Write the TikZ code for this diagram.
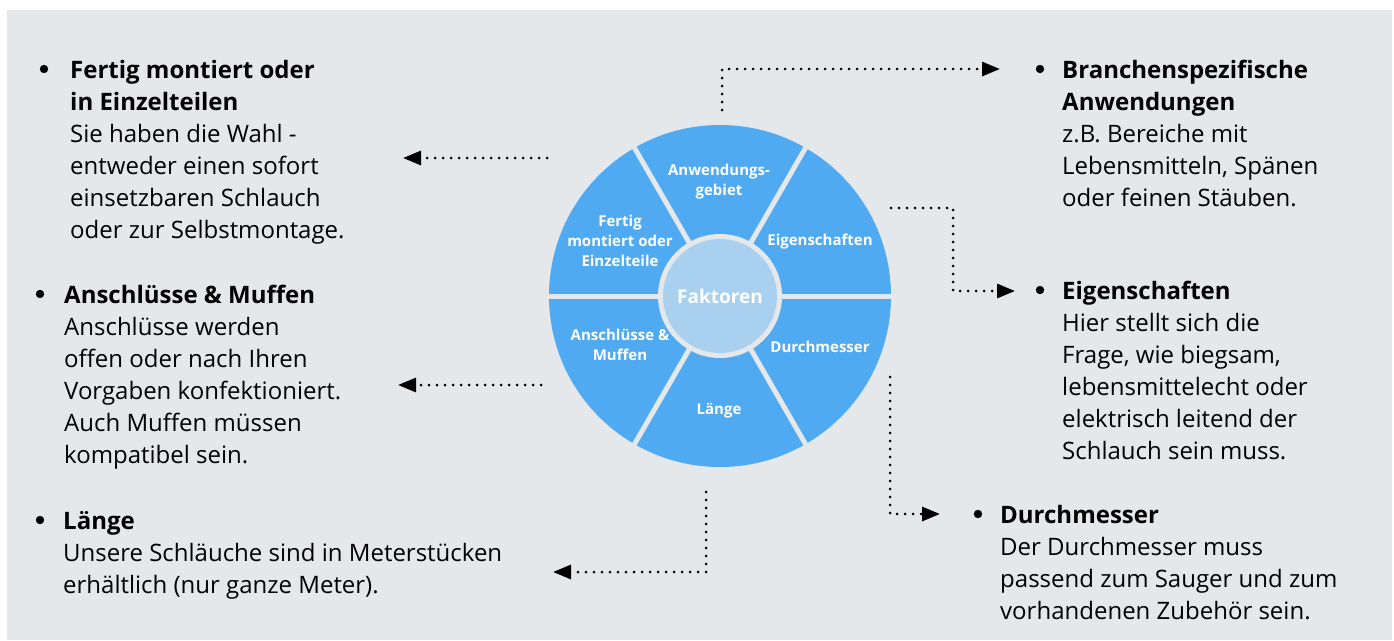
\documentclass[tikz,border=0pt]{standalone}
\usepackage{fontspec}
\setmainfont{Open Sans}
\usetikzlibrary{arrows.meta, positioning, calc}
\definecolor{bggray}{RGB}{229,232,234}
\definecolor{segblue}{RGB}{79,170,242}
\definecolor{coreblue}{RGB}{169,208,238}

\begin{document}
\begin{tikzpicture}[x=1pt, y=-1pt,
  seglabel/.style={text=white, inner sep=0pt, align=center, font=\bfseries\fontsize{15}{20}\selectfont},
  infotext/.style={anchor=north west, inner sep=0pt, align=left, font=\fontsize{24}{32}\selectfont,
    execute at begin node=\rule{0pt}{22pt}},
  connector/.style={line width=3pt, dash pattern=on 0pt off 8pt, line cap=round,
    -{Triangle[length=18pt, width=14pt]}}]
\useasboundingbox (0,0) rectangle (1394,640);
\fill[white] (0,0) rectangle (1394,640);
\fill[bggray] (7,10) rectangle (1392,640);

% wheel
\coordinate (C) at (720,296);
\fill[segblue] (C) circle[radius=171];
\foreach \a in {0,60,...,300}
  \draw[bggray, line width=5pt] (C) -- ++(\a:176);
\fill[bggray] (C) circle[radius=62];
\node[circle, fill=coreblue, minimum size=114pt, inner sep=0pt, text=white,
  font=\bfseries\fontsize{19}{24}\selectfont] (core) at (C) {Faktoren};

\node[seglabel] (segAnw) at (719,182) {Anwendungs-\\gebiet};
\node[seglabel] (segEig) at (820,242) {Eigenschaften};
\node[seglabel] (segDur) at (820,347) {Durchmesser};
\node[seglabel] (segLae) at (719,411) {Länge};
\node[seglabel] (segAns) at (620,345) {Anschlüsse \&\\Muffen};
\node[seglabel] (segFer) at (620,241) {Fertig\\montiert oder\\Einzelteile};

% texts
\node[infotext] (infoFer) at (70,60) {\textbf{Fertig montiert oder}\\\textbf{in Einzelteilen}\\Sie haben die Wahl -\\entweder einen sofort\\einsetzbaren Schlauch\\oder zur Selbstmontage.};
\node[infotext] (infoAns) at (64,285) {\textbf{Anschlüsse \& Muffen}\\Anschlüsse werden\\offen oder nach Ihren\\Vorgaben konfektioniert.\\Auch Muffen müssen\\kompatibel sein.};
\node[infotext] (infoLae) at (63,511) {\textbf{Länge}\\Unsere Schläuche sind in Meterstücken\\erhältlich (nur ganze Meter).};
\node[infotext] (infoAnw) at (1062,60) {\textbf{Branchenspezifische}\\\textbf{Anwendungen}\\z.B. Bereiche mit\\Lebensmitteln, Spänen\\oder feinen Stäuben.};
\node[infotext] (infoEig) at (1062,281) {\textbf{Eigenschaften}\\Hier stellt sich die\\Frage, wie biegsam,\\lebensmittelecht oder\\elektrisch leitend der\\Schlauch sein muss.};
\node[infotext] (infoDur) at (1000,505) {\textbf{Durchmesser}\\Der Durchmesser muss\\passend zum Sauger und zum\\vorhandenen Zubehör sein.};

% bullets
\foreach \n/\dx in {infoFer/26, infoAns/24, infoLae/23, infoAnw/22, infoEig/22, infoDur/22}
  \fill ([xshift=-\dx pt, yshift=-9pt]\n.north west) circle[radius=4.2];

% connectors
\coordinate (outFer) at (547,158);
\coordinate (inFer) at (403,158);
\coordinate (outAns) at (541,385);
\coordinate (inAns) at (398,385);
\coordinate (outLae) at (706,492);
\coordinate (inLae) at (553,572);
\coordinate (outAnw) at (722,110);
\coordinate (inAnw) at (1000,69);
\coordinate (outEig) at (891,208);
\coordinate (inEig) at (1015,291);
\coordinate (outDur) at (890,377);
\coordinate (inDur) at (940,514);

\draw[connector] (outFer) -- (inFer);
\draw[connector] (outAns) -- (inAns);
\draw[connector] (outLae) |- (inLae);
\draw[connector] (outAnw) |- (inAnw);
\draw[connector] (outEig) -| ($(outEig)!0.5!(inEig)$) |- (inEig);
\draw[connector] (outDur) |- (inDur);
\end{tikzpicture}
\end{document}
